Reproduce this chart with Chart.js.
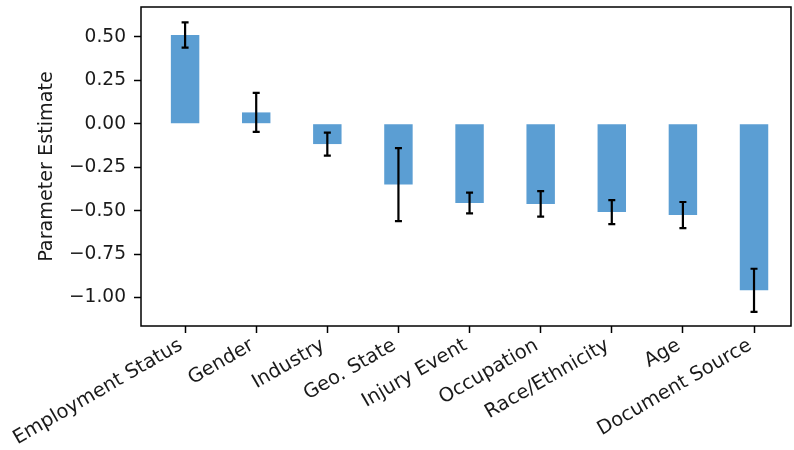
<!DOCTYPE html>
<html>
<head>
<meta charset="utf-8">
<script src="https://cdn.jsdelivr.net/npm/chart.js@4.4.1/dist/chart.umd.min.js"></script>
<style>
  html, body { margin: 0; padding: 0; background: #ffffff; overflow: hidden; }
  #wrap { width: 794px; height: 450px; position: relative; }
</style>
</head>
<body>
<div id="wrap"><canvas id="chart" width="794" height="450"></canvas></div>
<script>
// Factor effects with their standard errors
const categories = [
  'Employment Status', 'Gender', 'Industry', 'Geo. State', 'Injury Event',
  'Occupation', 'Race/Ethnicity', 'Age', 'Document Source'
];
const estimates = [0.51, 0.065, -0.117, -0.35, -0.456, -0.461, -0.508, -0.525, -0.958];
const errors = [0.073, 0.112, 0.066, 0.21, 0.06, 0.073, 0.069, 0.075, 0.124];
const yTicks = [-1.0, -0.75, -0.5, -0.25, 0.0, 0.25, 0.5];

const FONT = 'DejaVu Sans';
const INK = '#1a1a1a';

// Black error bars with caps, plus a full frame around the plot area
const errorBarPlugin = {
  id: 'errorBars',
  afterDatasetsDraw(chart) {
    const { ctx, scales: { x, y } } = chart;
    ctx.save();
    ctx.strokeStyle = '#000';
    ctx.lineWidth = 2.2;
    estimates.forEach((v, i) => {
      const px = x.getPixelForValue(i);
      const yTop = y.getPixelForValue(v + errors[i]);
      const yBot = y.getPixelForValue(v - errors[i]);
      ctx.beginPath();
      ctx.moveTo(px, yTop); ctx.lineTo(px, yBot);
      ctx.moveTo(px - 3.5, yTop); ctx.lineTo(px + 3.5, yTop);
      ctx.moveTo(px - 3.5, yBot); ctx.lineTo(px + 3.5, yBot);
      ctx.stroke();
    });
    ctx.restore();
  },
  afterDraw(chart) {
    const { ctx, chartArea: a } = chart;
    ctx.save();
    ctx.strokeStyle = '#000';
    ctx.lineWidth = 1.5;
    ctx.strokeRect(a.left, a.top, a.right - a.left, a.bottom - a.top);
    ctx.restore();
  }
};

const fmt = v => (v < 0 ? '\u2212' : '') + Math.abs(v).toFixed(2);

new Chart(document.getElementById('chart'), {
  type: 'bar',
  data: {
    datasets: [{
      data: estimates.map((v, i) => ({ x: i, y: v })),
      backgroundColor: '#5b9ed3',
      borderWidth: 0,
      barPercentage: 0.4,
      categoryPercentage: 1.0
    }]
  },
  options: {
    responsive: false,
    animation: false,
    events: [],
    layout: { padding: { top: 7, right: 3, left: 0, bottom: 0 } },
    plugins: { legend: { display: false }, tooltip: { enabled: false } },
    scales: {
      x: {
        type: 'linear',
        offset: false,
        min: -0.62,
        max: 8.52,
        grid: { display: true, drawOnChartArea: false, offset: false, tickLength: 7, tickColor: '#000', tickWidth: 1.5 },
        border: { display: false },
        afterBuildTicks(scale) { scale.ticks = categories.map((_, i) => ({ value: i })); },
        afterFit(scale) {
          scale.height = 124;
          scale.paddingLeft = 0; scale.paddingRight = 0;
        },
        ticks: {
          autoSkip: false,
          maxRotation: 30,
          minRotation: 30,
          padding: 1,
          labelOffset: -4,
          color: INK,
          font: { family: FONT, size: 19.5 },
          callback: v => categories[v]
        }
      },
      y: {
        min: -1.163,
        max: 0.671,
        grid: { display: true, drawOnChartArea: false, tickLength: 7, tickColor: '#000', tickWidth: 1.5 },
        border: { display: false },
        afterBuildTicks(scale) { scale.ticks = yTicks.map(v => ({ value: v })); },
        afterFit(scale) {
          scale.width = 141;
          scale.paddingTop = 0; scale.paddingBottom = 0;
        },
        ticks: {
          padding: 8,
          color: INK,
          font: { family: FONT, size: 18.6 },
          callback: v => fmt(v)
        },
        title: {
          display: true,
          text: 'Parameter Estimate',
          color: INK,
          font: { family: FONT, size: 19.2 },
          padding: { top: 35.5, bottom: 0 }
        }
      }
    }
  },
  plugins: [errorBarPlugin]
});
</script>
</body>
</html>
